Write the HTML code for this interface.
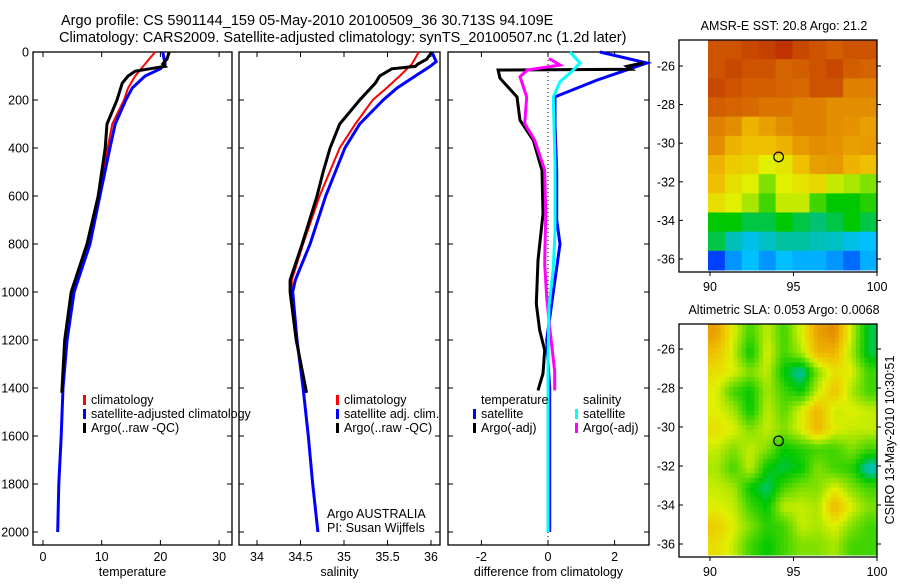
<!DOCTYPE html>
<html><head><meta charset="utf-8">
<style>
body{margin:0;background:#fff;}
svg text{font-family:"Liberation Sans",sans-serif;fill:#000;}
</style></head>
<body>
<svg id="c" width="900" height="580" xmlns="http://www.w3.org/2000/svg">
<text x="61" y="25" font-size="14.5">Argo profile: CS 5901144_159 05-May-2010 20100509_36 30.713S 94.109E</text>
<text x="59" y="42" font-size="14.5">Climatology: CARS2009. Satellite-adjusted climatology: synTS_20100507.nc (1.2d later)</text>
<g id="g"></g>
</svg>
<script>
// ---- data ----
const depthTicks=[0,200,400,600,800,1000,1200,1400,1600,1800,2000];
const tempTicks=[0,10,20,30];
const salTicks=[34,34.5,35,35.5,36];
const diffTicks=[-2,0,2];
const tClimD=[0,50,100,150,200,300,400,600,800,1000,1200,1400,1600,1800,2000];
const tClimV=[19.1,17.4,15.7,14.5,13.8,11.8,11.0,9.5,7.7,5.3,4.1,3.4,3.1,2.7,2.5];
const tSatD=[0,50,70,100,150,200,300,400,600,800,1000,1200,1400,1600,1800,2000];
const tSatV=[20.4,20.8,20.0,17.4,15.2,14.1,12.3,11.4,9.7,8.0,5.3,4.1,3.4,3.1,2.7,2.5];
const tArgD=[0,30,50,60,70,80,100,130,200,300,400,600,800,1000,1200,1420];
const tArgV=[21.5,21.1,20.4,20.8,18.2,15.7,14.5,13.5,12.6,10.9,10.6,9.4,7.5,4.8,3.7,3.2];
const sClimD=[0,50,100,150,200,300,400,600,800,950,1000,1200,1400,1600,1800,2000];
const sClimV=[35.86,35.78,35.64,35.49,35.33,35.13,34.95,34.72,34.53,34.40,34.40,34.46,34.53,34.59,34.64,34.70];
const sSatD=[0,40,60,100,150,200,300,400,600,800,950,1000,1200,1400,1600,1800,2000];
const sSatV=[36.01,36.06,35.99,35.82,35.61,35.45,35.18,35.01,34.79,34.61,34.44,34.41,34.46,34.53,34.59,34.64,34.70];
const sArgD=[0,30,50,60,70,100,130,200,300,400,500,600,800,950,1000,1200,1420];
const sArgV=[36.01,35.95,35.85,35.82,35.55,35.41,35.36,35.18,34.95,34.84,34.76,34.69,34.52,34.38,34.38,34.45,34.57];
const dTSatD=[0,46,117,187,300,500,700,800,1000,1200,1400,2000];
const dTSatV=[1.56,2.97,1.47,0.21,0.21,0.26,0.26,0.36,0.16,-0.04,0.05,0.05];
const dTArgD=[46,60,72,75,109,187,284,368,493,674,868,1049,1160,1243,1340,1410];
const dTArgV=[2.85,2.37,2.5,-1.5,-1.44,-0.93,-0.84,-0.44,-0.18,-0.15,-0.3,-0.35,-0.25,-0.1,-0.15,-0.3];
const dSArgD=[27,54,75,103,187,298,368,493,674,882,1021,1160,1330,1410];
const dSArgV=[0.03,0.36,-0.62,-0.84,-0.64,-0.7,-0.4,-0.1,-0.07,-0.1,-0.04,0.06,0.2,0.2];
const dSSatD=[0,46,75,124,187,470,750,900,1060,1300,2000];
const dSSatV=[0.66,0.96,0.76,0.36,0.16,0.21,0.21,0.16,0.03,0.0,0.0];
const sstGrid=[
[.88,.88,.9,.92,.95,.9,.88,.86,.88,.88],
[.88,.9,.88,.88,.85,.86,.88,.9,.86,.85],
[.9,.88,.86,.86,.85,.84,.88,.88,.8,.8],
[.86,.85,.84,.82,.82,.8,.8,.78,.78,.78],
[.8,.78,.72,.75,.78,.8,.8,.78,.77,.75],
[.78,.72,.7,.7,.72,.76,.78,.77,.75,.76],
[.72,.68,.67,.62,.64,.7,.75,.76,.72,.7],
[.7,.65,.62,.55,.62,.64,.66,.6,.58,.55],
[.65,.62,.58,.5,.6,.6,.5,.45,.45,.48],
[.45,.45,.42,.42,.45,.42,.4,.42,.45,.42],
[.42,.36,.32,.35,.38,.38,.36,.35,.32,.3],
[.15,.25,.3,.25,.3,.28,.28,.25,.2,.28]];
const slaGrid=[
[.75,.62,.5,.6,.5,.62,.75,.78,.6,.42],
[.7,.6,.45,.62,.5,.58,.72,.72,.58,.42],
[.65,.62,.55,.6,.45,.36,.55,.65,.62,.5],
[.62,.5,.45,.58,.5,.45,.6,.7,.58,.5],
[.62,.58,.45,.6,.52,.62,.72,.6,.62,.6],
[.65,.62,.55,.6,.55,.62,.72,.62,.6,.6],
[.6,.55,.6,.55,.45,.48,.5,.5,.55,.5],
[.58,.5,.6,.45,.42,.45,.55,.5,.48,.35],
[.6,.58,.45,.4,.5,.55,.55,.62,.55,.5],
[.62,.6,.5,.45,.6,.6,.58,.72,.62,.55],
[.68,.62,.55,.48,.5,.6,.58,.62,.55,.5],
[.65,.6,.5,.45,.5,.55,.55,.58,.5,.5]];
const latTicks=[-26,-28,-30,-32,-34,-36];
const lonTicks=[90,95,100];
const argoLon=94.109, argoLat=-30.713;

// ---- drawing ----
const NS='http://www.w3.org/2000/svg';
const G=document.getElementById('g');
function mk(t,a,p){const e=document.createElementNS(NS,t);for(const k in a)e.setAttribute(k,a[k]);(p||G).appendChild(e);return e;}
const Y0=52,YB=545;
const yD=d=>Y0+d*0.24;
function panel(name,L,R,xf,ticks,label,showY){
  const g=mk('g',{});
  
  
  mk('rect',{x:L,y:Y0,width:R-L,height:YB-Y0,fill:'none',stroke:'#000','stroke-width':1.3},g);
  ticks.forEach(t=>{const x=xf(t);
    mk('line',{x1:x,x2:x,y1:YB,y2:YB-5,stroke:'#000'},g);
    mk('line',{x1:x,x2:x,y1:Y0,y2:Y0+5,stroke:'#000'},g);
    const tx=mk('text',{x:x,y:561,'font-size':12.5,'text-anchor':'middle'},g);tx.textContent=t;});
  depthTicks.forEach(d=>{const y=yD(d);
    mk('line',{x1:L,x2:L+5,y1:y,y2:y,stroke:'#000'},g);
    mk('line',{x1:R,x2:R-5,y1:y,y2:y,stroke:'#000'},g);
    if(showY){const tx=mk('text',{x:29,y:y+4.5,'font-size':12.5,'text-anchor':'end'},g);tx.textContent=d;}});
  const xl=mk('text',{x:(L+R)/2,y:576,'font-size':12.5,'text-anchor':'middle'},g);xl.textContent=label;
  
  
  return g;
}
function line(name,D,V,xf,col,w,g){
  const p=mk('polyline',{points:D.map((d,i)=>xf(V[i]).toFixed(1)+','+yD(d).toFixed(1)).join(' '),fill:'none',stroke:col,'stroke-width':w},g);
  
  
}
function legend(name,x,y,items,g){
  items.forEach((it,i)=>{const yy=y+i*14;
    if(it[1])mk('rect',{x:x,y:yy-9,width:3,height:10,fill:it[1]},g);
    const t=mk('text',{x:x+8,y:yy,'font-size':12.5},g);t.textContent=it[0];
    
    });
}
const xT=v=>43+v*5.87, xS=v=>257+(v-34)*87, xDf=v=>548+v*33.3;
const p1=panel('temperature-panel',33,232,xT,tempTicks,'temperature',true);
line('temp-climatology',tClimD,tClimV,xT,'#f00',2,p1);
line('temp-satellite-adjusted',tSatD,tSatV,xT,'#00f',3,p1);
line('temp-argo',tArgD,tArgV,xT,'#000',3,p1);
legend('temp-legend',83,404,[['climatology','#f00'],['satellite-adjusted climatology','#00f'],['Argo(..raw -QC)','#000']],p1);
const p2=panel('salinity-panel',239,440,xS,salTicks,'salinity',false);
line('sal-climatology',sClimD,sClimV,xS,'#f00',2,p2);
line('sal-satellite-adjusted',sSatD,sSatV,xS,'#00f',3,p2);
line('sal-argo',sArgD,sArgV,xS,'#000',3,p2);
legend('sal-legend',336,404,[['climatology','#f00'],['satellite adj. clim.','#00f'],['Argo(..raw -QC)','#000']],p2);
const n1=mk('text',{x:327,y:518,'font-size':12.5},p2);n1.textContent='Argo AUSTRALIA';
const n2=mk('text',{x:327,y:532,'font-size':12.5},p2);n2.textContent='PI: Susan Wijffels';
const p3=panel('difference-panel',448,649,xDf,diffTicks,'difference from climatology',false);
mk('line',{x1:548,x2:548,y1:Y0,y2:YB,stroke:'#000','stroke-dasharray':'1,3'},p3);
line('diff-temp-satellite',dTSatD,dTSatV,xDf,'#00f',3,p3);
line('diff-temp-argo',dTArgD,dTArgV,xDf,'#000',3,p3);
line('diff-sal-argo',dSArgD,dSArgV,xDf,'#f0f',3,p3);
line('diff-sal-satellite',dSSatD,dSSatV,xDf,'#0ff',3,p3);
legend('diff-temp-legend',473,404,[['temperature',null],['satellite','#00f'],['Argo(-adj)','#000']],p3);
legend('diff-sal-legend',575,404,[['salinity',null],['satellite','#0ff'],['Argo(-adj)','#f0f']],p3);

// colour scale
const stops=[[0,[0,0,128]],[.15,[0,64,255]],[.3,[0,192,255]],[.38,[0,192,160]],[.45,[0,200,0]],[.55,[128,224,0]],[.62,[224,240,0]],[.7,[240,192,0]],[.8,[224,128,0]],[.9,[200,72,0]],[1,[180,30,0]]];
function col(v){for(let i=1;i<stops.length;i++){if(v<=stops[i][0]){const a=stops[i-1],b=stops[i],f=(v-a[0])/(b[0]-a[0]);return 'rgb('+a[1].map((c,k)=>Math.round(c+(b[1][k]-c)*f)).join(',')+')';}}return 'rgb(180,30,0)';}
function sample(grid,fi,fj,smooth){
  const rows=grid.length, cols=grid[0].length;
  if(!smooth)return grid[Math.min(rows-1,Math.floor(fi))][Math.min(cols-1,Math.floor(fj))];
  let y=Math.max(0,Math.min(rows-1,fi-0.5)), x=Math.max(0,Math.min(cols-1,fj-0.5));
  const i0=Math.floor(y), j0=Math.floor(x), i1=Math.min(rows-1,i0+1), j1=Math.min(cols-1,j0+1), fy=y-i0, fx=x-j0;
  return grid[i0][j0]*(1-fx)*(1-fy)+grid[i0][j1]*fx*(1-fy)+grid[i1][j0]*(1-fx)*fy+grid[i1][j1]*fx*fy;
}
function map(name,top,bot,lat26,lat36,title,grid,smooth){
  const g=mk('g',{});
  
  
  const L=679,R=877;
  const xL=v=>710+(v-90)*16.7;
  const sc=(lat36-lat26)/10;
  const yL=v=>lat26+(-26-v)*sc;
  const rows=grid.length, cols=grid[0].length;
  const sub=smooth?4:1;
  const x0=708, cw=(R-x0)/cols/sub, ch=(bot-top-2)/rows/sub;
  for(let i=0;i<rows*sub;i++)for(let j=0;j<cols*sub;j++){
    const v=sample(grid,(i+0.5)/sub,(j+0.5)/sub,smooth);
    const c=mk('rect',{x:x0+j*cw,y:top+i*ch,width:cw+0.5,height:ch+0.5,fill:col(v)},g);
    
    }
  mk('rect',{x:L,y:top,width:R-L,height:bot-top,fill:'none',stroke:'#000','stroke-width':1.3},g);
  latTicks.forEach(t=>{const y=yL(t);
    mk('line',{x1:L,x2:L+4,y1:y,y2:y,stroke:'#000'},g);
    mk('line',{x1:R,x2:R+4,y1:y,y2:y,stroke:'#000'},g);
    const tx=mk('text',{x:L-4,y:y+4.5,'font-size':12.5,'text-anchor':'end'},g);tx.textContent=t;});
  lonTicks.forEach(t=>{const x=xL(t);
    mk('line',{x1:x,x2:x,y1:bot,y2:bot+4,stroke:'#000'},g);
    const tx=mk('text',{x:x,y:bot+19,'font-size':12.5,'text-anchor':'middle'},g);tx.textContent=t;});
  const tt=mk('text',{x:784,y:top-10,'font-size':12.5,'text-anchor':'middle'},g);tt.textContent=title;
  const c=mk('circle',{cx:xL(argoLon),cy:yL(argoLat),r:4.8,fill:'none',stroke:'#000','stroke-width':1.2},g);
  
  
}
map('sst-map',40,272,66,259,'AMSR-E SST: 20.8 Argo: 21.2',sstGrid,false);
map('sla-map',324,557,349,544,'Altimetric SLA: 0.053 Argo: 0.0068',slaGrid,true);
const cs=mk('text',{x:0,y:0,'font-size':12.5,'text-anchor':'middle',transform:'translate(894,440) rotate(-90)'});
cs.textContent='CSIRO 13-May-2010 10:30:51';


</script>
</body></html>
